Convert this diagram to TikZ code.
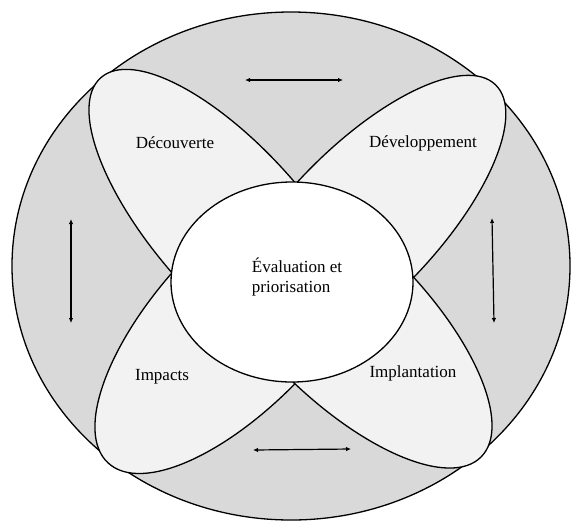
\documentclass[tikz,border=0pt]{standalone}
\usepackage{fontspec}
\setmainfont{Liberation Serif}
\usetikzlibrary{arrows.meta}
\definecolor{ringgray}{HTML}{D9D9D9}
\definecolor{petalgray}{HTML}{F2F2F2}
\begin{document}
\begin{tikzpicture}[x=1pt,y=-1pt,
  outline/.style={draw=black,line width=1.3pt},
  petal/.style={outline,fill=petalgray},
  lbl/.style={font=\fontsize{17}{20}\selectfont,inner sep=0pt},
  cyc/.style={line width=1.2pt,{Latex[length=5pt,width=4.5pt]}-{Latex[length=5pt,width=4.5pt]}}]
\useasboundingbox (0,0) rectangle (572,523);
% outer ring
\filldraw[outline,fill=ringgray] (291,266) ellipse [x radius=279,y radius=254];
% petals, each kept on the outer side of its junction chord
\begin{scope}
  \clip (-74,456) -- (546,6) -- (546,-400) -- (-400,-400) -- (-400,456) -- cycle;
  \filldraw[petal,rotate around={-48.5:(232,226)}] (232,226) ellipse [x radius=198,y radius=76];
\end{scope}
\begin{scope}
  \clip (56,0) -- (646,465) -- (900,465) -- (900,-400) -- (56,-400) -- cycle;
  \filldraw[petal,rotate around={46:(360,225)}] (360,225) ellipse [x radius=195,y radius=75];
\end{scope}
\begin{scope}
  \clip (-74,48) -- (546,598) -- (546,900) -- (-400,900) -- (-400,48) -- cycle;
  \filldraw[petal,rotate around={47:(243,318)}] (243,318) ellipse [x radius=198,y radius=83];
\end{scope}
\begin{scope}
  \clip (56,592) -- (646,57) -- (900,57) -- (900,900) -- (56,900) -- cycle;
  \filldraw[petal,rotate around={-45:(341,317)}] (341,317) ellipse [x radius=198,y radius=80];
\end{scope}
% centre
\filldraw[outline,fill=white] (292,282) ellipse [x radius=121,y radius=100];
% labels
\node[lbl] (dec) at (175,143) {Découverte};
\node[lbl] (dev) at (423,143) {Développement};
\node[lbl,align=left] (eval) at (297,277) {Évaluation et\\priorisation};
\node[lbl] (imp) at (162,377) {Impacts};
\node[lbl] (impl) at (413,373) {Implantation};
% arrows
\coordinate (t1) at (245,80); \coordinate (t2) at (343,80);
\coordinate (b1) at (253,450); \coordinate (b2) at (351,449);
\coordinate (l1) at (71,219); \coordinate (l2) at (71,323);
\coordinate (r1) at (492,218); \coordinate (r2) at (494,323);
\draw[cyc] (t1) -- (t2);
\draw[cyc] (b1) -- (b2);
\draw[cyc] (l1) -- (l2);
\draw[cyc] (r1) -- (r2);
\end{tikzpicture}
\end{document}
